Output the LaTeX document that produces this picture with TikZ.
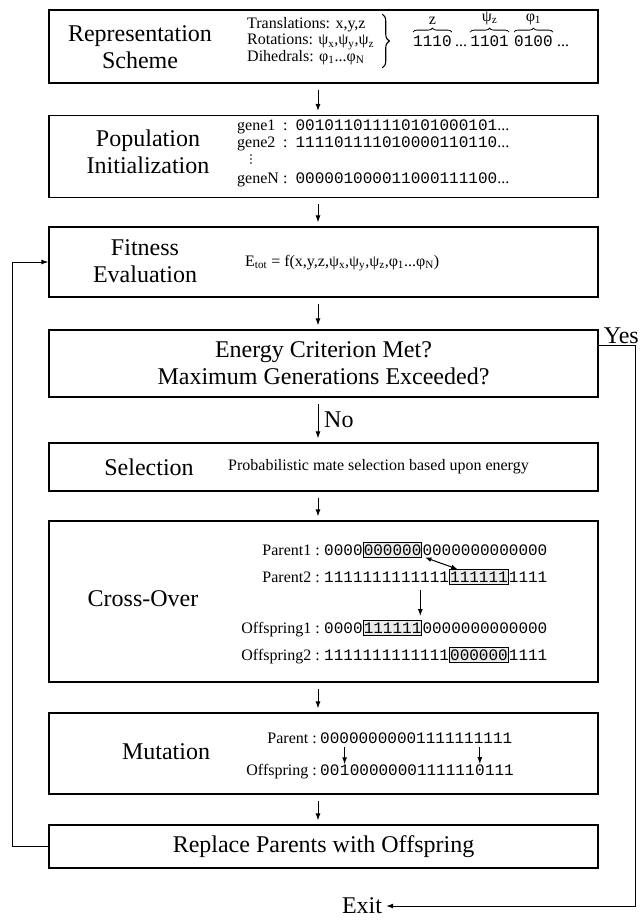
\documentclass[tikz,border=0pt]{standalone}
\usepackage{fontspec}
\setmainfont{Liberation Serif}
\setmonofont{Liberation Mono}
\usetikzlibrary{positioning,arrows.meta,calc,decorations.pathreplacing}

\tikzset{
  stage/.style={draw, line width=1.2pt, minimum width=549pt, inner sep=0pt},
  bigtxt/.style={font=\fontsize{24}{27}\selectfont, align=center, inner sep=0pt},
  smalltxt/.style={font=\fontsize{16}{16.5}\selectfont, inner sep=0pt},
  bits/.style={font=\ttfamily\fontsize{16}{16}\selectfont, inner sep=0pt},
  seg/.style={bits, draw, line width=0.9pt, fill=black!8, inner xsep=0.5pt, inner ysep=2pt},
  flow/.style={-{Latex[length=7pt,width=5pt]}, line width=1pt, shorten <=6pt, shorten >=4pt},
  brc/.style={decorate, decoration={brace, amplitude=4pt}, line width=0.8pt},
}

\begin{document}
\begin{tikzpicture}[x=1pt,y=-1pt]
	\useasboundingbox (0,0) rectangle (640,922);
	
	% stages
	\node[stage, minimum height=73pt] (rep) at (323.5,46.5) {};
	\node[stage, minimum height=82pt] (pop) at (323.5,156.5) {};
	\node[stage, minimum height=70pt] (fit) at (323.5,262) {};
	\node[stage, minimum height=67pt, bigtxt, inner sep=0pt] (crit) at (323.5,363.5)
		{Energy Criterion Met?\\Maximum Generations Exceeded?};
	\node[stage, minimum height=48pt] (sel) at (323.5,467) {};
	\node[stage, minimum height=161pt] (cross) at (323.5,601.5) {};
	\node[stage, minimum height=81pt] (mut) at (323.5,753.5) {};
	\node[stage, minimum height=43pt, bigtxt, inner sep=0pt] (repl) at (323.5,846.5)
		{Replace Parents with Offspring};
	
	% representation
	\node[bigtxt] (replbl) at (140,47) {Representation\\Scheme};
	\node[smalltxt, align=left, anchor=west] (par) at (247,41)
		{Translations: x,y,z\\Rotations: ψ\textsubscript{x},ψ\textsubscript{y},ψ\textsubscript{z}\\Dihedrals: φ\textsubscript{1}...φ\textsubscript{N}};
	\draw[brc, decoration={amplitude=7pt}, line width=1.1pt]
		([xshift=8pt,yshift=3pt]par.north east) -- ([xshift=8pt,yshift=-3pt]par.south east);
	\node[bits, anchor=base west] (b1) at (413,46) {1110};
	\node[smalltxt, base right=3pt of b1] (d1) {...};
	\node[bits, base right=3pt of d1] (b2) {1101};
	\node[bits, base right=5pt of b2] (b3) {0100};
	\node[smalltxt, base right=4pt of b3] (d2) {...};
	\draw[brc] ([yshift=3pt]b1.north west) -- ([yshift=3pt]b1.north east)
		node[smalltxt, midway, above=7pt] {z};
	\draw[brc] ([yshift=3pt]b2.north west) -- ([yshift=3pt]b2.north east)
		node[smalltxt, midway, above=7pt] {ψ\textsubscript{z}};
	\draw[brc] ([yshift=3pt]b3.north west) -- ([yshift=3pt]b3.north east)
		node[smalltxt, midway, above=7pt] {φ\textsubscript{1}};
	
	% population
	\node[bigtxt] (poplbl) at (148,152) {Population\\Initialization};
	\node[smalltxt, anchor=base west] (g1) at (237,130) {gene1};
	\node[smalltxt, anchor=base west] (g2) at (237,147) {gene2};
	\node[smalltxt, anchor=base west] (gN) at (237,183) {geneN};
	\foreach \d in {0,1,2}{
		\fill (251,155+\d*4) circle (0.8);}
	\node[smalltxt, anchor=base west] (g1b) at (283,130) {:\, \texttt{001011011110101000101}...};
	\node[smalltxt, anchor=base west] (g2b) at (283,147) {:\, \texttt{111101111010000110110}...};
	\node[smalltxt, anchor=base west] (gNb) at (283,183) {:\, \texttt{000001000011000111100}...};
	
	% fitness
	\node[bigtxt] (fitlbl) at (145,261) {Fitness\\Evaluation};
	\node[smalltxt, anchor=west] (etot) at (245,263)
		{E\textsubscript{tot} = f(x,y,z,ψ\textsubscript{x},ψ\textsubscript{y},ψ\textsubscript{z},φ\textsubscript{1}...φ\textsubscript{N})};
	
	% selection
	\node[bigtxt] (sellbl) at (149,467) {Selection};
	\node[smalltxt, anchor=west] (seldesc) at (228,467) {Probabilistic mate selection based upon energy};
	
	% cross-over
	\node[bigtxt] (crosslbl) at (143,599) {Cross-Over};
	\node[smalltxt, anchor=base east] (lp1) at (320,555) {Parent1 :};
	\node[bits, anchor=base west] (p1a) at (324,555) {0000};
	\node[seg, base right=0pt of p1a] (p1b) {000000};
	\node[bits, base right=0pt of p1b] (p1c) {0000000000000};
	\node[smalltxt, anchor=base east] (lp2) at (320,582) {Parent2 :};
	\node[bits, anchor=base west] (p2a) at (324,582) {1111111111111};
	\node[seg, base right=0pt of p2a] (p2b) {111111};
	\node[bits, base right=0pt of p2b] (p2c) {1111};
	\node[smalltxt, anchor=base east] (lo1) at (320,633) {Offspring1 :};
	\node[bits, anchor=base west] (o1a) at (324,633) {0000};
	\node[seg, base right=0pt of o1a] (o1b) {111111};
	\node[bits, base right=0pt of o1b] (o1c) {0000000000000};
	\node[smalltxt, anchor=base east] (lo2) at (320,660) {Offspring2 :};
	\node[bits, anchor=base west] (o2a) at (324,660) {1111111111111};
	\node[seg, base right=0pt of o2a] (o2b) {000000};
	\node[bits, base right=0pt of o2b] (o2c) {1111};
	\draw[{Latex[length=6pt,width=5pt]}-{Latex[length=6pt,width=5pt]}, line width=1pt]
		([xshift=3pt]p1b.south east) -- ([xshift=8pt]p2b.north west);
	\draw[flow, shorten <=0pt, shorten >=0pt]
		([xshift=-2pt,yshift=30pt]o1b.north east) -- ([xshift=-2pt,yshift=4pt]o1b.north east);
	
	% mutation
	\node[bigtxt] (mutlbl) at (166,752) {Mutation};
	\node[smalltxt, anchor=base east] (lmp) at (317,743) {Parent :};
	\node[bits, anchor=base west] (mp) at (320,743) {00000000001111111111};
	\node[smalltxt, anchor=base east] (lmo) at (317,775) {Offspring :};
	\node[bits, anchor=base west] (ma) at (320,775) {00};
	\node[bits, base right=0pt of ma] (mb) {1};
	\node[bits, base right=0pt of mb] (mc) {0000000111111};
	\node[bits, base right=0pt of mc] (md) {0};
	\node[bits, base right=0pt of md] (me) {111};
	\foreach \x in {mb,md}{
		\draw[flow, shorten <=0pt, shorten >=0pt] ([yshift=17pt]\x.north) -- (\x.north);}
	
	% flow between stages
	\coordinate (ax) at (318,0);
	\foreach \a/\b in {rep/pop,pop/fit,fit/crit,crit/sel,sel/cross,cross/mut,mut/repl}{
		\draw[flow] (\a.south -| ax) -- (\b.north -| ax);}
	\node[bigtxt, anchor=west] (no) at (324,420) {No};
	
	% loop back and exit
	\coordinate (fb) at (12,0);
	\draw[flow, shorten <=0pt, shorten >=0pt] (repl.west) -- (repl.west -| fb) |- (fit.west);
	\node[bigtxt, anchor=east] (yes) at (639,336) {Yes};
	\node[bigtxt] (exit) at (362,906) {Exit};
	\coordinate (yc) at (635,345);
	\draw[flow, shorten <=0pt] (crit.east |- yc) -- (yc) |- (exit.east);
\end{tikzpicture}
\end{document}
